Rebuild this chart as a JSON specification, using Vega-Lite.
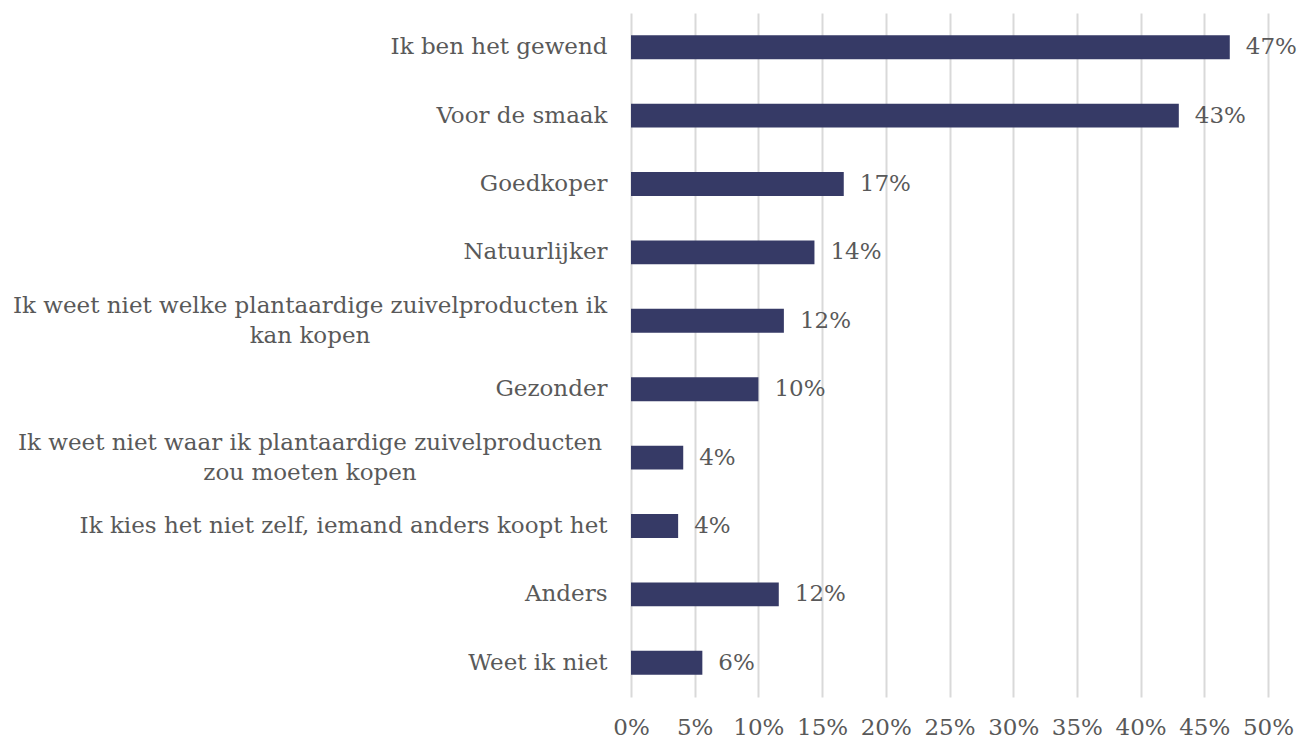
{
  "$schema": "https://vega.github.io/schema/vega-lite/v6.json",
  "autosize": {"type": "none"},
  "padding": {"left": 631, "top": 13, "right": 34, "bottom": 43},
  "width": 637,
  "height": 684,
  "background": "white",
  "config": {
    "view": {"stroke": null},
    "font": "DejaVu Serif",
    "text": {"font": "DejaVu Serif"},
    "axisX": {
      "title": null,
      "format": ".0%",
      "labelOverlap": false,
      "labelFlush": false,
      "domain": false,
      "ticks": false,
      "grid": true,
      "gridColor": "#d9d9d9",
      "gridWidth": 2,
      "labelPadding": 19,
      "labelFontSize": 23,
      "labelColor": "#595959",
      "labelFont": "DejaVu Serif"
    }
  },
  "data": {
    "values": [
      {"reden": "Ik ben het gewend", "pct": 0.47},
      {"reden": "Voor de smaak", "pct": 0.43},
      {"reden": "Goedkoper", "pct": 0.167},
      {"reden": "Natuurlijker", "pct": 0.144},
      {"reden": "Ik weet niet welke plantaardige zuivelproducten ik|kan kopen", "pct": 0.12},
      {"reden": "Gezonder", "pct": 0.10},
      {"reden": "Ik weet niet waar ik plantaardige zuivelproducten|zou moeten kopen", "pct": 0.041},
      {"reden": "Ik kies het niet zelf, iemand anders koopt het", "pct": 0.037},
      {"reden": "Anders", "pct": 0.116},
      {"reden": "Weet ik niet", "pct": 0.056}
    ]
  },
  "encoding": {
    "y": {
      "field": "reden",
      "type": "nominal",
      "sort": null,
      "scale": {"paddingInner": 0.65, "paddingOuter": 0.325},
      "axis": {
        "title": null,
        "domain": false,
        "ticks": false,
        "labelPadding": 24,
        "labelFontSize": 23,
        "labelColor": "#595959",
        "labelFont": "DejaVu Serif",
        "labelLimit": 700,
        "labelExpr": "indexof(datum.value, '|') >= 0 ? '' : datum.value"
      }
    }
  },
  "layer": [
    {
      "mark": {"type": "bar", "color": "#363a66"},
      "encoding": {
        "x": {
          "field": "pct",
          "type": "quantitative",
          "scale": {"domain": [0, 0.5], "nice": false},
          "axis": {"values": [0, 0.05, 0.1, 0.15, 0.2, 0.25, 0.3, 0.35, 0.4, 0.45, 0.5]}
        }
      }
    },
    {
      "mark": {"type": "text", "align": "left", "baseline": "middle", "dx": 16, "fontSize": 23, "color": "#595959"},
      "encoding": {
        "x": {"field": "pct", "type": "quantitative", "axis": {"values": [0, 0.05, 0.1, 0.15, 0.2, 0.25, 0.3, 0.35, 0.4, 0.45, 0.5]}},
        "text": {"field": "pct", "type": "quantitative", "format": ".0%"}
      }
    },
    {
      "transform": [{"filter": "indexof(datum.reden, '|') >= 0"}],
      "mark": {"type": "text", "align": "center", "baseline": "middle", "dx": -321, "dy": -15, "fontSize": 23, "color": "#595959", "lineBreak": "|", "lineHeight": 30},
      "encoding": {
        "x": {"datum": 0, "type": "quantitative", "axis": {"values": [0, 0.05, 0.1, 0.15, 0.2, 0.25, 0.3, 0.35, 0.4, 0.45, 0.5]}},
        "text": {"field": "reden", "type": "nominal"}
      }
    }
  ]
}
